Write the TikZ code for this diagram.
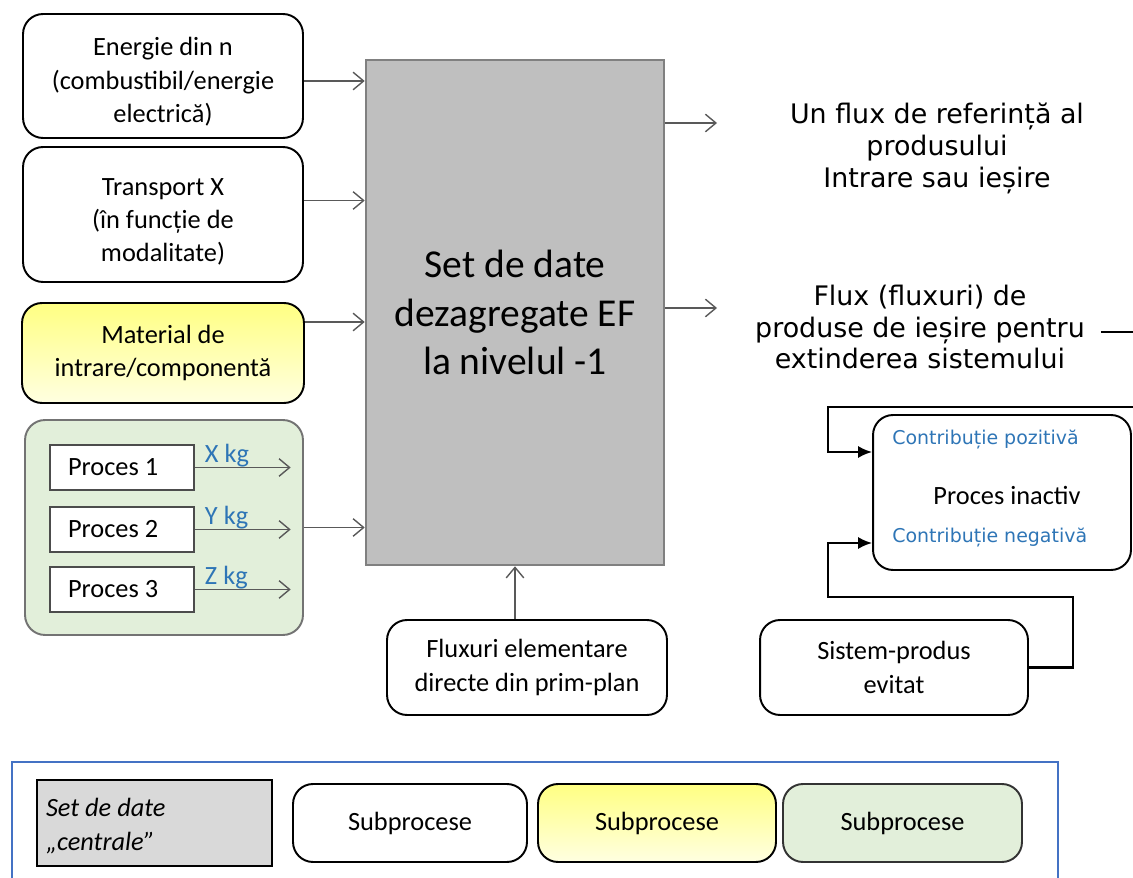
\documentclass[tikz,border=0pt]{standalone}
\usepackage{fontspec}
\setmainfont{Carlito}
\newfontfamily\verdana{DejaVu Sans}
\usetikzlibrary{positioning,arrows.meta}

\definecolor{coregray}{RGB}{191,191,191}
\definecolor{leggray}{RGB}{217,217,217}
\definecolor{subgreen}{RGB}{226,239,218}
\definecolor{contrib}{RGB}{46,117,182}
\definecolor{legframe}{RGB}{68,114,196}
\definecolor{yeltop}{RGB}{255,255,130}
\definecolor{yelbot}{RGB}{255,255,225}

\begin{document}
\begin{tikzpicture}[x=0.02cm,y=-0.02cm,
    every node/.style={font=\fontsize{15}{19}\selectfont},
    sub/.style={draw,line width=1.1pt,rounded corners=0.4cm,align=center,inner sep=0pt},
    yel/.style={sub,top color=yeltop,bottom color=yelbot},
    grn/.style={sub,draw=black!55,fill=subgreen},
    proc/.style={draw=black!70,line width=0.8pt,fill=white,minimum width=2.88cm,minimum height=0.9cm,
        text width=2.16cm,inner xsep=0.36cm,align=flush left},
    core/.style={draw=black!50,line width=1.5pt,fill=coregray,align=center},
    flow/.style={draw=black!65,line width=0.8pt,-{Straight Barb[length=6pt,width=10pt]}},
    link/.style={draw,line width=1.3pt,-{Latex[length=8pt,width=7pt]}},
    kg/.style={text=contrib,anchor=base west,inner sep=0pt},
    rtext/.style={font=\verdana\fontsize{15.3}{18.2}\selectfont,align=center},
    blue/.style={font=\verdana\fontsize{10.8}{13}\selectfont,text=contrib,anchor=west,inner sep=0pt}]
    \useasboundingbox (0,0) rectangle (1133,878);

    \node[sub,minimum width=5.6cm,minimum height=2.48cm] (energie) at (163,76)
        {\rule{0pt}{17pt}Energie din n\\(combustibil/energie\\electrică)};
    \node[sub,minimum width=5.6cm,minimum height=2.7cm] (transport) at (163,214.5)
        {\rule{0pt}{18pt}Transport X\\(în funcție de\\modalitate)};
    \node[yel,minimum width=5.64cm,minimum height=2cm] (material) at (163,353)
        {Material de\\intrare/componentă};
    \node[grn,minimum width=5.56cm,minimum height=4.3cm] (grup) at (164,527.5) {};
    \node[proc] (p1) at (122,467.5) {Proces 1};
    \node[proc,on grid,below=1.24cm of p1] (p2) {Proces 2};
    \node[proc,on grid,below=1.2cm of p2] (p3) {Proces 3};

    \node[core,minimum width=5.96cm,minimum height=10.1cm,
        font=\fontsize{22.5}{27.5}\selectfont] (setdate) at (515,312.5)
        {Set de date\\dezagregate EF\\la nivelul -1};

    \node[sub,minimum width=5.6cm,minimum height=1.9cm] (elem) at (527,667.5)
        {Fluxuri elementare\\directe din prim-plan};

    \node[rtext] (refflux) at (937,148)
        {Un flux de referință al\\produsului\\Intrare sau ieșire};
    \node[rtext,inner xsep=9pt] (extflux) at (920,327)
        {Flux (fluxuri) de\\produse de ieșire pentru\\extinderea sistemului};

    \node[sub,minimum width=5.16cm,minimum height=3.1cm] (inactiv) at (1002,492.5) {};
    \node[blue] (poz) at (892,440) {Contribuție pozitivă};
    \node (inact) at (1007,495) {Proces inactiv};
    \node[blue] (neg) at (892,538) {Contribuție negativă};

    \node[sub,minimum width=5.36cm,minimum height=1.9cm] (sistem) at (894,667.5)
        {Sistem-produs\\evitat};

    \coordinate (out1) at (717,123);
    \coordinate (out2) at (717,308);
    \coordinate (edge) at (1133,332);
    \coordinate (toptail) at (1133,407);
    \coordinate (topbend) at (828,452);
    \coordinate (botturn) at (1073,597);
    \coordinate (botbend) at (828,543);

    \path[flow] ([yshift=-0.1cm]energie.east) -- ([yshift=-0.1cm]energie.east -| setdate.west);
    \path[flow] ([yshift=0.28cm]transport.east) -- ([yshift=0.28cm]transport.east -| setdate.west);
    \path[flow] ([yshift=0.62cm]material.east) -- ([yshift=0.62cm]material.east -| setdate.west);
    \path[flow] (grup.east) -- (grup.east -| setdate.west);
    \path[flow] (p1.east) -- ++(96,0) node[kg,pos=0.1,yshift=3pt] {X kg};
    \path[flow] (p2.east) -- ++(96,0) node[kg,pos=0.1,yshift=3pt] {Y kg};
    \path[flow] (p3.east) -- ++(96,0) node[kg,pos=0.1,yshift=3pt] {Z kg};
    \path[flow] (setdate.south |- elem.north) -- (setdate.south);
    \path[flow] (setdate.east |- out1) -- (out1);
    \path[flow] (setdate.east |- out2) -- (out2);
    \draw[line width=1.1pt] (extflux.east |- edge) -- (edge);

    \path[link] (toptail) -| (topbend) -- (topbend -| inactiv.west);
    \path[link] (sistem.east) -| (botturn) -- (botturn -| botbend) -- (botbend) -- (botbend -| inactiv.west);

    \draw[legframe,line width=0.9pt] (12,762) rectangle (1058,885);
    \node[draw,line width=1.1pt,fill=leggray,minimum width=4.7cm,minimum height=1.72cm,
        text width=4.34cm,inner xsep=0.18cm,align=flush left,font=\itshape\fontsize{15}{19}\selectfont] (legcore) at (154.5,823)
        {\rule{0pt}{14pt}Set de date\\„centrale”};
    \node[sub,minimum width=4.68cm,minimum height=1.56cm] (legwhite) at (410,823) {Subprocese};
    \node[yel,minimum width=4.76cm,minimum height=1.56cm] (legyel) at (657,823) {Subprocese};
    \node[grn,draw=black!80,minimum width=4.78cm,minimum height=1.56cm] (leggrn) at (902.5,823) {Subprocese};
\end{tikzpicture}
\end{document}
